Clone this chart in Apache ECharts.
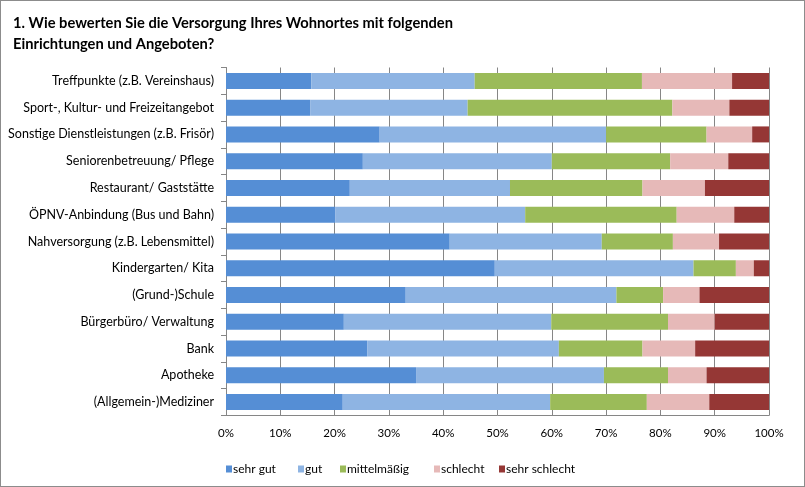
<!DOCTYPE html>
<html><head><meta charset="utf-8">
<script src="https://cdn.jsdelivr.net/npm/echarts@6/dist/echarts.min.js"></script>
<style>
html,body{margin:0;padding:0;background:#fff;}
#c{width:805px;height:487px;box-sizing:border-box;border:1px solid #8c8c8c;}
</style></head>
<body><div id="c"></div>
<script>
const categories = ["Treffpunkte (z.B. Vereinshaus)","Sport-, Kultur- und Freizeitangebot","Sonstige Dienstleistungen (z.B. Frisör)","Seniorenbetreuung/ Pflege","Restaurant/ Gaststätte","ÖPNV-Anbindung (Bus und Bahn)","Nahversorgung (z.B. Lebensmittel)","Kindergarten/ Kita","(Grund-)Schule","Bürgerbüro/ Verwaltung","Bank","Apotheke","(Allgemein-)Mediziner"];
const seriesNames = ["sehr gut","gut","mittelmäßig","schlecht","sehr schlecht"];
const sehrGut     = [15.7,15.5,28.3,25.2,22.8,20.1,41.2,49.5,33.1,21.7,26.0,35.0,21.5];
const gut         = [30.1,29.0,41.7,34.8,29.5,35.0,28.0,36.6,38.8,38.2,35.3,34.6,38.2];
const mittelmaessig=[30.8,37.7,18.5,21.8,24.4,27.9,13.1,7.8,8.6,21.5,15.4,11.8,17.8];
const schlecht    = [16.6,10.5,8.4,10.7,11.5,10.6,8.5,3.3,6.7,8.6,9.7,7.1,11.5];
const sehrSchlecht= [6.8,7.3,3.1,7.5,11.8,6.4,9.2,2.8,12.8,10.0,13.6,11.5,11.0];
const colors = ["#558ED5","#8EB4E3","#9BBB59","#E6B9B8","#953735"];
const allData = [sehrGut,gut,mittelmaessig,schlecht,sehrSchlecht];
const font = "Lato";
const legendLeft = [220,292,334,428,493];
const chart = echarts.init(document.getElementById('c'));
chart.setOption({
  animation:false,
  textStyle:{fontFamily:font},
  title:{text:"1. Wie bewerten Sie die Versorgung Ihres Wohnortes mit folgenden\nEinrichtungen und Angeboten?",left:7,top:7,
    textStyle:{fontFamily:font,fontSize:14.7,fontWeight:'bold',color:'#000',lineHeight:21}},
  legend: seriesNames.map((n,i)=>({left:legendLeft[i],top:457,itemWidth:6,itemHeight:7,icon:'rect',
    textStyle:{fontFamily:font,fontSize:12,color:'#000',padding:[0,0,0,-4]},data:[n]})),
  grid:{left:225,right:35,top:66.5,bottom:70.5,containLabel:false},
  xAxis:{type:'value',min:0,max:100,interval:10,
    axisLabel:{formatter:'{value}%',fontSize:11.5,color:'#000',margin:12,fontFamily:font},
    axisLine:{show:true,lineStyle:{color:'#868686'}},axisTick:{show:false},
    splitLine:{show:true,lineStyle:{color:'#868686',width:1}}},
  yAxis:{type:'category',data:categories,inverse:true,
    axisLabel:{fontSize:12.5,color:'#000',margin:12,fontFamily:font},
    axisLine:{show:true,lineStyle:{color:'#868686'}},
    axisTick:{show:true,length:5,inside:false,lineStyle:{color:'#868686'}}},
  series: seriesNames.map((n,i)=>({name:n,type:'bar',stack:'t',data:allData[i],barWidth:16,
    itemStyle:{color:colors[i]}}))
});
</script></body></html>
